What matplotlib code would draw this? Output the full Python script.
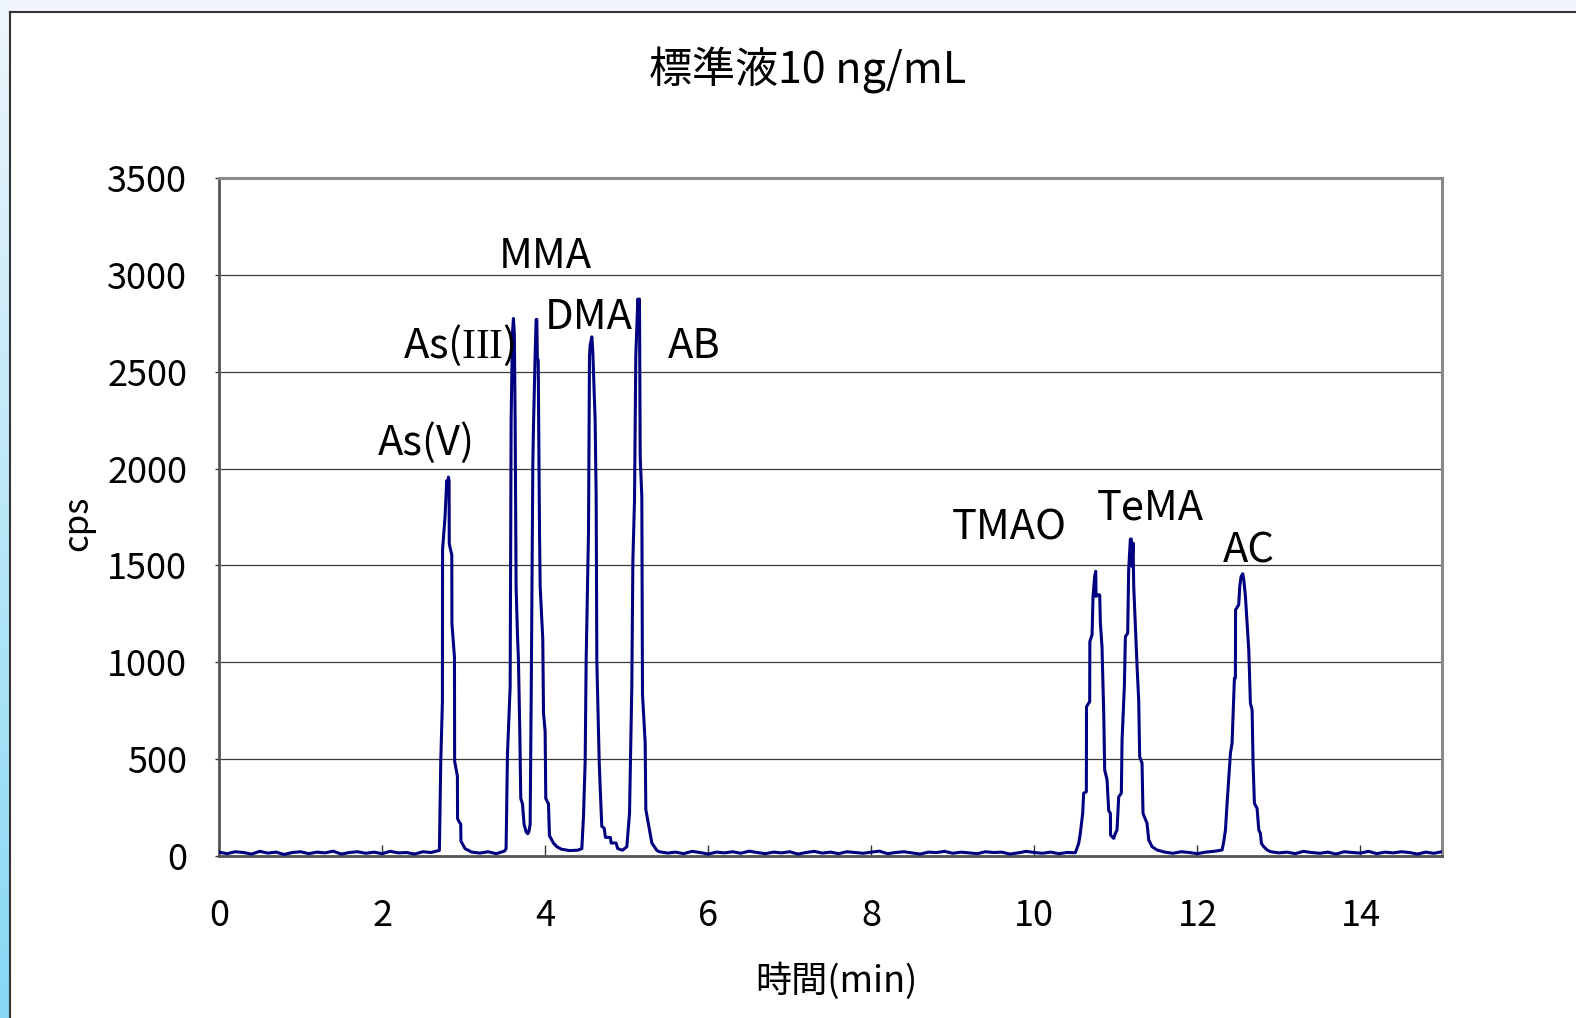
import numpy as np
import matplotlib
matplotlib.use("Agg")
import matplotlib.pyplot as plt
from matplotlib.colors import LinearSegmentedColormap
from matplotlib.lines import Line2D
from matplotlib.patches import Rectangle

plt.rcParams['font.family'] = ['Noto Sans CJK JP', 'DejaVu Sans']
# serif roman numerals inside the peak labels
plt.rcParams['mathtext.fontset'] = 'custom'
plt.rcParams['mathtext.rm'] = 'Liberation Serif'

# --- chromatogram data (time in min, intensity in cps) ---
base1_cps = [20, 12, 22, 18, 10, 24, 15, 20, 8, 18, 22, 12, 20, 16, 25, 10,
             18, 22, 14, 20, 12, 24, 16, 18, 10, 22, 18]            # 0.0 - 2.6
as5_t = [2.703, 2.720, 2.740, 2.742, 2.773, 2.793, 2.803, 2.814, 2.822, 2.824,
         2.855, 2.857, 2.888, 2.890, 2.924, 2.926, 2.965, 2.967, 3.018]
as5_cps = [29, 489, 796, 1582, 1755, 1937, 1880, 1956, 1937, 1611,
           1554, 1199, 1026, 489, 412, 192, 163, 77, 38]
base2_cps = [20, 15, 22, 12, 25]                                     # 3.1 - 3.5
as3_mma_t = [3.521, 3.538, 3.571, 3.583, 3.599, 3.611, 3.622, 3.632, 3.644, 3.660,
             3.673, 3.690, 3.701, 3.722, 3.742, 3.767, 3.787, 3.800, 3.816, 3.830,
             3.849, 3.857, 3.877, 3.890, 3.898, 3.905, 3.915, 3.931, 3.939, 3.971,
             3.980, 4.000, 4.008, 4.041, 4.053, 4.102, 4.143, 4.2, 4.3, 4.4]
as3_mma_cps = [38, 527, 873, 2254, 2695, 2775, 2700, 2254, 1391, 1150,
               1007, 623, 297, 269, 163, 125, 115, 125, 163, 873,
               2024, 2215, 2580, 2770, 2770, 2570, 2560, 1678, 1391, 1122,
               738, 643, 297, 269, 105, 67, 48, 35, 28, 30]
dma_ab_t = [4.450, 4.470, 4.491, 4.503, 4.532, 4.544, 4.552, 4.573, 4.585, 4.613,
            4.626, 4.634, 4.663, 4.675, 4.695, 4.724, 4.740, 4.800, 4.810, 4.870,
            4.890, 4.950, 5.002, 5.035, 5.063, 5.076, 5.096, 5.112, 5.137, 5.147,
            5.157, 5.166, 5.186, 5.194, 5.227, 5.235, 5.268, 5.309, 5.370]
dma_ab_cps = [38, 201, 489, 1007, 1678, 2580, 2637, 2680, 2599, 2254,
              1851, 1007, 489, 355, 153, 144, 96, 96, 67, 67,
              38, 30, 48, 221, 873, 1525, 1832, 2580, 2875, 2720,
              2875, 2062, 1851, 834, 585, 240, 163, 67, 29]
base3_cps = [22, 15, 20, 12, 24, 18, 10, 20, 16, 22, 14, 25, 18, 12, 20, 16,
             22, 10, 18, 24, 15, 20, 12, 22, 18, 14, 20, 25, 12, 18, 22, 16,
             10, 20, 18, 24, 14, 20, 16, 12, 22, 18, 20, 10, 16, 24, 18, 14,
             20, 12, 18]                                             # 5.4 - 10.4
tmao_tema_t = [10.503, 10.523, 10.544, 10.564, 10.593, 10.605, 10.638, 10.640, 10.679, 10.681,
               10.708, 10.720, 10.740, 10.753, 10.757, 10.769, 10.802, 10.810, 10.830, 10.851,
               10.863, 10.892, 10.912, 10.933, 10.935, 10.973, 10.994, 11.014, 11.035, 11.067,
               11.076, 11.104, 11.117, 11.145, 11.157, 11.178, 11.190, 11.198, 11.211, 11.219,
               11.260, 11.280, 11.292, 11.321, 11.333, 11.382, 11.403, 11.444, 11.505]
tmao_tema_cps = [17, 40, 65, 117, 220, 324, 332, 771, 797, 1107,
                 1142, 1340, 1443, 1470, 1340, 1348, 1348, 1202, 1081, 737,
                 444, 393, 234, 220, 108, 91, 117, 134, 306, 324,
                 599, 875, 1133, 1150, 1477, 1636, 1636, 1495, 1615, 1391,
                 978, 806, 513, 479, 220, 169, 83, 48, 31]
base4_cps = [20, 14, 22, 18, 12, 20, 24]                             # 11.6 - 12.2
ac_t = [12.303, 12.323, 12.344, 12.364, 12.405, 12.425, 12.438, 12.454, 12.466, 12.468,
        12.507, 12.519, 12.536, 12.556, 12.569, 12.589, 12.609, 12.630, 12.650, 12.671,
        12.683, 12.699, 12.732, 12.753, 12.773, 12.785, 12.814, 12.855]
ac_cps = [31, 74, 134, 272, 530, 582, 737, 918, 918, 1271,
          1297, 1391, 1443, 1457, 1426, 1340, 1202, 1064, 789, 754,
          479, 272, 246, 134, 117, 65, 48, 31]
base5_cps = [22, 16, 20, 12, 24, 18, 14, 20, 10, 22, 18, 15, 24, 12, 20, 16,
             22, 18, 10, 20, 14, 22]                                 # 12.9 - 15.0

peak_names = ['As(V)', r'As($\mathrm{III}$)', 'MMA', 'DMA', 'AB', 'TMAO', 'TeMA', 'AC']
label_t = [2.54, 2.94, 4.00, 4.54, 5.83, 9.69, 11.42, 12.63]
label_cps = [2070, 2569, 3037, 2720, 2569, 1633, 1737, 1513]

segments = [
    (np.round(np.arange(0.0, 2.65, 0.1), 2), base1_cps),
    (as5_t, as5_cps),
    (np.round(np.arange(3.1, 3.55, 0.1), 2), base2_cps),
    (as3_mma_t, as3_mma_cps),
    (dma_ab_t, dma_ab_cps),
    (np.round(np.arange(5.4, 10.45, 0.1), 2), base3_cps),
    (tmao_tema_t, tmao_tema_cps),
    (np.round(np.arange(11.6, 12.25, 0.1), 2), base4_cps),
    (ac_t, ac_cps),
    (np.round(np.arange(12.9, 15.05, 0.1), 2), base5_cps),
]
time = np.concatenate([np.asarray(t, float) for t, _ in segments])
cps = np.concatenate([np.asarray(v, float) for _, v in segments])

W, H = 1576, 1018
fig = plt.figure(figsize=(W / 100, H / 100), dpi=100)
fig.patch.set_facecolor('white')

# light blue edges around the chart sheet
fig.add_artist(Rectangle((0, 1 - 11 / H), 1, 11 / H, transform=fig.transFigure,
                         color='#f0f6fc', zorder=0))
strip = fig.add_axes([0, 0, 9 / W, 1])
grad = np.linspace(0, 1, 256).reshape(-1, 1)
strip.imshow(grad, aspect='auto', extent=[0, 1, 0, 1],
             cmap=LinearSegmentedColormap.from_list('edge', ['#eef6fc', '#86d8f4']))
strip.set_axis_off()
fig.add_artist(Line2D([10 / W, 10 / W], [0, 1 - 12 / H], transform=fig.transFigure,
                      color='#333333', lw=1.5))
fig.add_artist(Line2D([10 / W, 1], [1 - 12 / H, 1 - 12 / H], transform=fig.transFigure,
                      color='#333333', lw=1.5))

ax = fig.add_axes([219 / W, 1 - 856 / H, (1442 - 219) / W, (856 - 178) / H])
ax.plot(time, cps, color='#000080', lw=2.2, zorder=3)

ax.set_xlim(0, 15)
ax.set_ylim(0, 3500)
ax.set_xticks(range(0, 16, 2))
ax.set_yticks(range(0, 3501, 500))
ax.yaxis.grid(True, color='#3a3a3a', lw=0.9)
ax.set_axisbelow(True)
for side in ['top', 'right']:
    ax.spines[side].set_color('#8a8a8a')
    ax.spines[side].set_linewidth(2.2)
for side in ['left', 'bottom']:
    ax.spines[side].set_color('#555555')
    ax.spines[side].set_linewidth(2.0)
ax.tick_params(axis='x', direction='in', length=8, width=1, color='#333333',
               labelsize=26, pad=30)
ax.tick_params(axis='y', direction='out', length=3, width=1, color='#333333',
               labelsize=26, pad=20)

for name, t, v in zip(peak_names, label_t, label_cps):
    ax.text(t, v, name, ha='center', va='baseline', fontsize=30)

fig.text(808 / W, 1 - 70 / H, '標準液10 ng/mL', ha='center', va='center', fontsize=31)
fig.text(836 / W, 1 - 981 / H, '時間(min)', ha='center', va='center', fontsize=26)
fig.text(78 / W, 1 - 523 / H, 'cps', ha='center', va='center', rotation=90, fontsize=25)

fig.savefig('out.png', dpi=100)
